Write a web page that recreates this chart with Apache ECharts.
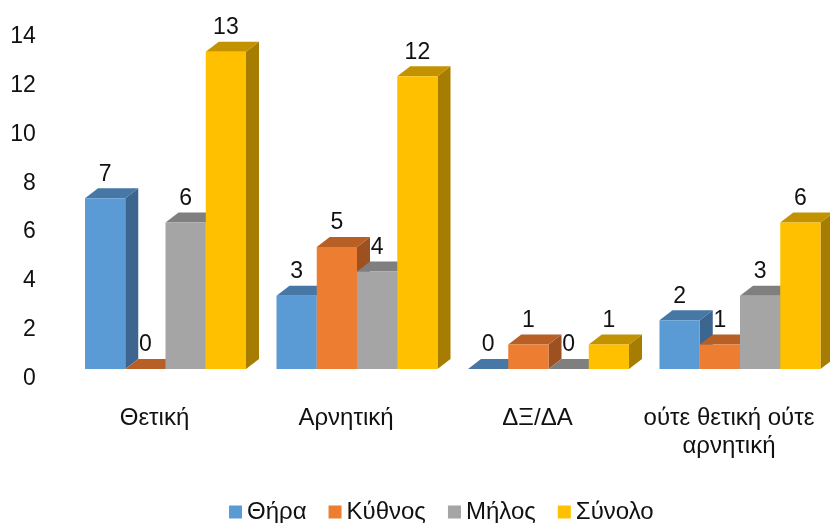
<!DOCTYPE html>
<html>
<head>
<meta charset="utf-8">
<style>
  html, body { margin: 0; padding: 0; background: #fff; }
  #chart { width: 830px; height: 523px; }
</style>
</head>
<body>
<div id="chart"></div>
<script src="https://cdn.jsdelivr.net/npm/echarts@6/dist/echarts.min.js"></script>
<script>
  const categories = ["Θετική", "Αρνητική", "ΔΞ/ΔΑ", "ούτε θετική ούτε\nαρνητική"];
  const yTicks = { min: 0, max: 14, interval: 2 };
  const thira = [7, 3, 0, 2];
  const kythnos = [0, 5, 1, 1];
  const milos = [6, 4, 0, 3];
  const synolo = [13, 12, 1, 6];

  const FONT = "Liberation Sans";
  const DEPTH_X = 13;
  const DEPTH_Y = 10;
  const BAR_SHARE = 161 / 191.5 / 4; // bar width as part of a category
  const BAR_SHIFT = 11; // bars sit right of the category labels in the 3D look

  // front, top and side colours of each series
  const seriesList = [
    { name: "Θήρα", data: thira, front: "#5B9BD5", top: "#4677A5", side: "#3C658F" },
    { name: "Κύθνος", data: kythnos, front: "#ED7D31", top: "#B85F25", side: "#9E5120" },
    { name: "Μήλος", data: milos, front: "#A5A5A5", top: "#7F7F7F", side: "#6E6E6E" },
    { name: "Σύνολο", data: synolo, front: "#FFC000", top: "#C29200", side: "#A67D00" },
  ];

  const makeRender = (s, index) => (params, api) => {
    const cat = api.value(0);
    const val = api.value(1);
    const band = api.size([1, 0])[0];
    const w = band * BAR_SHARE;
    const top = api.coord([cat, val]);
    const base = api.coord([cat, 0]);
    const x0 = top[0] + BAR_SHIFT + (index - 2) * w;
    const x1 = x0 + w;
    const y0 = top[1];
    const y1 = base[1];
    const children = [];
    if (y1 - y0 > 0) {
      children.push({
        type: "polygon",
        shape: { points: [[x1, y0], [x1 + DEPTH_X, y0 - DEPTH_Y], [x1 + DEPTH_X, y1 - DEPTH_Y], [x1, y1]] },
        style: { fill: s.side },
      });
    }
    children.push({
      type: "polygon",
      shape: { points: [[x0, y0], [x0 + DEPTH_X, y0 - DEPTH_Y], [x1 + DEPTH_X, y0 - DEPTH_Y], [x1, y0]] },
      style: { fill: s.top },
    });
    if (y1 - y0 > 0) {
      children.push({
        type: "rect",
        shape: { x: x0, y: y0, width: w, height: y1 - y0 },
        style: { fill: s.front },
      });
    }
    children.push({
      type: "text",
      z2: 100,
      style: {
        text: String(val),
        x: (x0 + x1) / 2,
        y: y0 - 24,
        align: "center",
        verticalAlign: "middle",
        font: "23px '" + FONT + "'",
        fill: "#111",
      },
    });
    return { type: "group", children: children };
  };

  const chart = echarts.init(document.getElementById("chart"));
  chart.setOption({
    animation: false,
    backgroundColor: "#fff",
    textStyle: { fontFamily: FONT },
    legend: {
      left: 224,
      top: 495,
      icon: "rect",
      itemWidth: 13,
      itemHeight: 13,
      itemGap: 22,
      data: seriesList.map(s => s.name),
      selectedMode: false,
      textStyle: { fontSize: 24, color: "#111", fontFamily: FONT },
    },
    grid: { left: 58.75, width: 766, top: 27.4, height: 341.6, outerBoundsMode: "none" },
    xAxis: {
      type: "category",
      data: categories,
      axisLine: { show: false },
      axisTick: { show: false },
      axisLabel: { interval: 0, margin: 35, fontSize: 24, lineHeight: 28, color: "#111", fontFamily: FONT },
    },
    yAxis: {
      type: "value",
      min: yTicks.min,
      max: yTicks.max,
      interval: yTicks.interval,
      axisLine: { show: false },
      axisTick: { show: false },
      splitLine: { show: false },
      axisLabel: { margin: 23, fontSize: 23, color: "#111", fontFamily: FONT, verticalAlign: "top", lineHeight: 19 },
    },
    series: seriesList.map((s, i) => ({
      name: s.name,
      type: "custom",
      itemStyle: { color: s.front },
      encode: { x: 0, y: 1 },
      data: s.data.map((v, c) => [c, v]),
      renderItem: makeRender(s, i),
    })),
  });
</script>
</body>
</html>
